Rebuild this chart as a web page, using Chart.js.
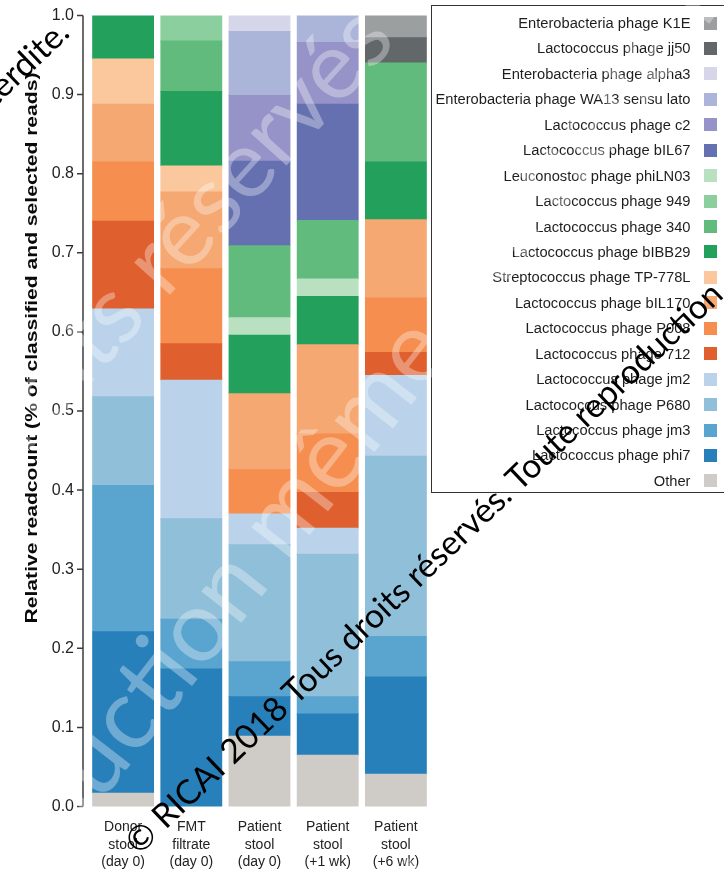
<!DOCTYPE html>
<html lang="en">
<head>
<meta charset="utf-8">
<title>Phage composition by sample</title>
<script src="https://cdn.jsdelivr.net/npm/chart.js@4.4.1/dist/chart.umd.min.js"></script>
<style>
  html, body { margin: 0; padding: 0; background: #fff; }
  #stage { position: relative; width: 724px; height: 869px; overflow: hidden;
           font-family: "Liberation Sans", Arial, sans-serif; }
  #chart { position: absolute; left: 0; top: 0; }
  #ytitle { position: absolute; left: 31.5px; top: 348px; white-space: nowrap; font-weight: bold;
            font-size: 16px; line-height: 1; color: #0a0a0a; }
  #legend { position: absolute; left: 431px; top: 5px; width: 310px; height: 488px; box-sizing: border-box;
            border: 1px solid #333; padding-top: 4.3px; padding-right: 23px; }
  #legend .item { height: 25.45px; display: flex; align-items: center; justify-content: flex-end;
                  font-size: 14.7px; color: #1e1e1e; white-space: nowrap; }
  #legend .sw { width: 13px; height: 13px; margin-left: 13.5px; flex: none; }
  .wm { position: absolute; left: 0; top: 0; width: 0; height: 0; transform-origin: 0 0; pointer-events: none; }
  .wm span { position: absolute; white-space: nowrap; line-height: 1; }
</style>
</head>
<body>
<div id="stage">
  <canvas id="chart" width="724" height="869"></canvas>
  <div id="ytitle">Relative readcount (% of classified and selected reads)</div>
  <div id="legend"></div>
</div>
<script>
// Samples on the x axis (multi-line tick labels)
const categories = [
  ['Donor', 'stool', '(day 0)'],
  ['FMT', 'filtrate', '(day 0)'],
  ['Patient', 'stool', '(day 0)'],
  ['Patient', 'stool', '(+1 wk)'],
  ['Patient', 'stool', '(+6 wk)']
];

// Relative read fractions per phage, one value per sample
const other   = [0.017, 0.000, 0.089, 0.065, 0.041];
const phi7    = [0.204, 0.174, 0.050, 0.052, 0.123];
const jm3     = [0.185, 0.063, 0.044, 0.022, 0.051];
const p680    = [0.112, 0.127, 0.148, 0.180, 0.228];
const jm2     = [0.111, 0.175, 0.039, 0.033, 0.102];
const ph712   = [0.111, 0.046, 0.000, 0.045, 0.029];
const p008    = [0.075, 0.095, 0.056, 0.074, 0.069];
const bil170  = [0.073, 0.097, 0.096, 0.113, 0.099];
const tp778l  = [0.057, 0.033, 0.000, 0.000, 0.000];
const bibb29  = [0.055, 0.094, 0.074, 0.061, 0.073];
const philn03 = [0.000, 0.000, 0.022, 0.022, 0.000];
const ph340   = [0.000, 0.064, 0.091, 0.074, 0.125];
const ph949   = [0.000, 0.032, 0.000, 0.000, 0.000];
const bil67   = [0.000, 0.000, 0.107, 0.147, 0.000];
const c2      = [0.000, 0.000, 0.083, 0.078, 0.000];
const wa13    = [0.000, 0.000, 0.081, 0.034, 0.000];
const alpha3  = [0.000, 0.000, 0.021, 0.000, 0.000];
const jj50    = [0.000, 0.000, 0.000, 0.000, 0.032];
const k1e     = [0.000, 0.000, 0.000, 0.000, 0.028];

// Y axis tick values
const yTicks = [0, 0.1, 0.2, 0.3, 0.4, 0.5, 0.6, 0.7, 0.8, 0.9, 1.0];

// Series, listed from the bottom of each stack to the top
const series = [
  { label: 'Other',                              data: other,   color: '#cfcbc6' },
  { label: 'Lactococcus phage phi7',             data: phi7,    color: '#2880bb' },
  { label: 'Lactococcus phage jm3',              data: jm3,     color: '#5aa5cf' },
  { label: 'Lactococcus phage P680',             data: p680,    color: '#8fbfd9' },
  { label: 'Lactococcus phage jm2',              data: jm2,     color: '#bad3ea' },
  { label: 'Lactococcus phage 712',              data: ph712,   color: '#df602e' },
  { label: 'Lactococcus phage P008',             data: p008,    color: '#f58e4e' },
  { label: 'Lactococcus phage bIL170',           data: bil170,  color: '#f5a872' },
  { label: 'Streptococcus phage TP-778L',        data: tp778l,  color: '#fbc89e' },
  { label: 'Lactococcus phage bIBB29',           data: bibb29,  color: '#23a05c' },
  { label: 'Leuconostoc phage phiLN03',          data: philn03, color: '#b9e1c1' },
  { label: 'Lactococcus phage 340',              data: ph340,   color: '#61bb7c' },
  { label: 'Lactococcus phage 949',              data: ph949,   color: '#8ccf9e' },
  { label: 'Lactococcus phage bIL67',            data: bil67,   color: '#6570b0' },
  { label: 'Lactococcus phage c2',               data: c2,      color: '#9593c7' },
  { label: 'Enterobacteria phage WA13 sensu lato', data: wa13,  color: '#abb5d9' },
  { label: 'Enterobacteria phage alpha3',        data: alpha3,  color: '#d6d6ea' },
  { label: 'Lactococcus phage jj50',             data: jj50,    color: '#62686a' },
  { label: 'Enterobacteria phage K1E',           data: k1e,     color: '#9b9fa0' }
];

// Order of entries in the legend box (top to bottom)
const legendOrder = [
  'Enterobacteria phage K1E', 'Lactococcus phage jj50', 'Enterobacteria phage alpha3',
  'Enterobacteria phage WA13 sensu lato', 'Lactococcus phage c2', 'Lactococcus phage bIL67',
  'Leuconostoc phage phiLN03', 'Lactococcus phage 949', 'Lactococcus phage 340',
  'Lactococcus phage bIBB29', 'Streptococcus phage TP-778L', 'Lactococcus phage bIL170',
  'Lactococcus phage P008', 'Lactococcus phage 712', 'Lactococcus phage jm2',
  'Lactococcus phage P680', 'Lactococcus phage jm3', 'Lactococcus phage phi7', 'Other'
];

Chart.defaults.font.family = '"Liberation Sans", Arial, sans-serif';
Chart.defaults.color = '#222';

// Y axis line with outward ticks, set slightly apart from the first bar
const offsetYAxis = {
  id: 'offsetYAxis',
  afterDraw(chart) {
    const { ctx, chartArea, scales: { y } } = chart;
    const x = chartArea.left - 6;
    ctx.save();
    ctx.strokeStyle = '#3c3c3c';
    ctx.lineWidth = 1.5;
    ctx.beginPath();
    ctx.moveTo(x, y.getPixelForValue(y.max));
    ctx.lineTo(x, y.getPixelForValue(y.min));
    y.ticks.forEach(t => {
      const py = y.getPixelForValue(t.value);
      ctx.moveTo(x - 6, py);
      ctx.lineTo(x, py);
    });
    ctx.stroke();
    ctx.restore();
  }
};

const chart = new Chart(document.getElementById('chart'), {
  type: 'bar',
  data: {
    labels: categories,
    datasets: series.map(s => ({
      label: s.label,
      data: s.data,
      backgroundColor: s.color,
      borderWidth: 0,
      inflateAmount: c => (c.raw > 0 ? 0.4 : 0)
    }))
  },
  options: {
    responsive: false,
    animation: false,
    devicePixelRatio: 1,
    layout: { padding: { top: 15.5, right: 294, bottom: 0, left: 0 } },
    plugins: { legend: { display: false }, tooltip: { enabled: false } },
    datasets: { bar: { categoryPercentage: 1, barPercentage: 0.895 } },
    scales: {
      x: {
        stacked: true,
        grid: { display: false, drawTicks: false },
        border: { display: false },
        ticks: { padding: 12, color: '#222', font: { size: 14, lineHeight: 1.25 }, maxRotation: 0, autoSkip: false },
        afterFit: s => { s.height = 62.5; }
      },
      y: {
        stacked: true,
        min: 0,
        max: 1,
        grid: { display: false, drawTicks: false },
        border: { display: false },
        afterBuildTicks: s => { s.ticks = yTicks.map(v => ({ value: v })); },
        ticks: { padding: 15, color: '#222', font: { size: 16 }, callback: v => Number(v).toFixed(1) },
        afterFit: s => { s.width = 89; s.paddingTop = 0; s.paddingBottom = 0; }
      }
    }
  },
  plugins: [offsetYAxis]
});

// Legend box built from the chart's datasets
const legendEl = document.getElementById('legend');
legendOrder.forEach(name => {
  const ds = chart.data.datasets.find(d => d.label === name);
  const row = document.createElement('div');
  row.className = 'item';
  const txt = document.createElement('span');
  txt.textContent = ds.label;
  const sw = document.createElement('span');
  sw.className = 'sw';
  sw.style.background = ds.backgroundColor;
  row.appendChild(txt);
  row.appendChild(sw);
  legendEl.appendChild(row);
});

// Rotated y-axis title stretched along its length
const yt = document.getElementById('ytitle');
const ytScale = 551 / yt.offsetWidth;
yt.style.transform = `translate(-50%, -50%) rotate(-90deg) scaleX(${ytScale})`;

// Diagonal copyright notices laid over the figure
const stage = document.getElementById('stage');
const measureCtx = document.createElement('canvas').getContext('2d');
function textWidth(str, font) { measureCtx.font = font; return measureCtx.measureText(str).width; }
function addNotice({ text, key, anchorEnd, x, y, angle, size, color, family }) {
  const font = `${size}px ${family}`;
  let offset = 0;
  if (anchorEnd) offset = textWidth(text, font);
  else if (key) offset = textWidth(text.slice(0, text.indexOf(key)), font);
  const wrap = document.createElement('div');
  wrap.className = 'wm';
  wrap.style.transform = `translate(${x}px, ${y}px) rotate(${angle}deg)`;
  const span = document.createElement('span');
  span.textContent = text;
  span.style.font = font;
  span.style.lineHeight = '1';
  span.style.color = color;
  span.style.left = `${-offset}px`;
  span.style.top = `${-size / 2}px`;
  wrap.appendChild(span);
  stage.appendChild(wrap);
}

const noticeFamily = 'Lato, "Open Sans", sans-serif';
const whiteMark = 'rgba(255,255,255,0.33)';
addNotice({ text: 'Tous droits réservés', key: 'réservés', x: 138, y: 275, angle: -48, size: 95, color: whiteMark, family: noticeFamily });
addNotice({ text: 'Reproduction même partielle interdite.', key: 'ction', x: 104, y: 735, angle: -52, size: 100, color: whiteMark, family: noticeFamily });
addNotice({ text: 'Tous droits réservés', key: 'roits', x: 432, y: 872, angle: -47, size: 80, color: whiteMark, family: noticeFamily });

// Main dark notice spanning from the lower left to the upper right
const mainText = '© RICAI 2018 Tous droits réservés. Toute reproduction';
const p0 = { x: 130.6, y: 847 }, p1 = { x: 718, y: 286.5 };
const span = Math.hypot(p1.x - p0.x, p1.y - p0.y);
const mainSize = span / textWidth(mainText, `100px ${noticeFamily}`) * 100;
const mainAngle = Math.atan2(p1.y - p0.y, p1.x - p0.x) * 180 / Math.PI;
addNotice({ text: mainText, x: p0.x, y: p0.y, angle: mainAngle, size: mainSize, color: '#000', family: noticeFamily });
addNotice({ text: 'Reproduction même partielle interdite.', anchorEnd: true, x: 63, y: 26, angle: mainAngle, size: mainSize, color: '#000', family: noticeFamily });
</script>
</body>
</html>
